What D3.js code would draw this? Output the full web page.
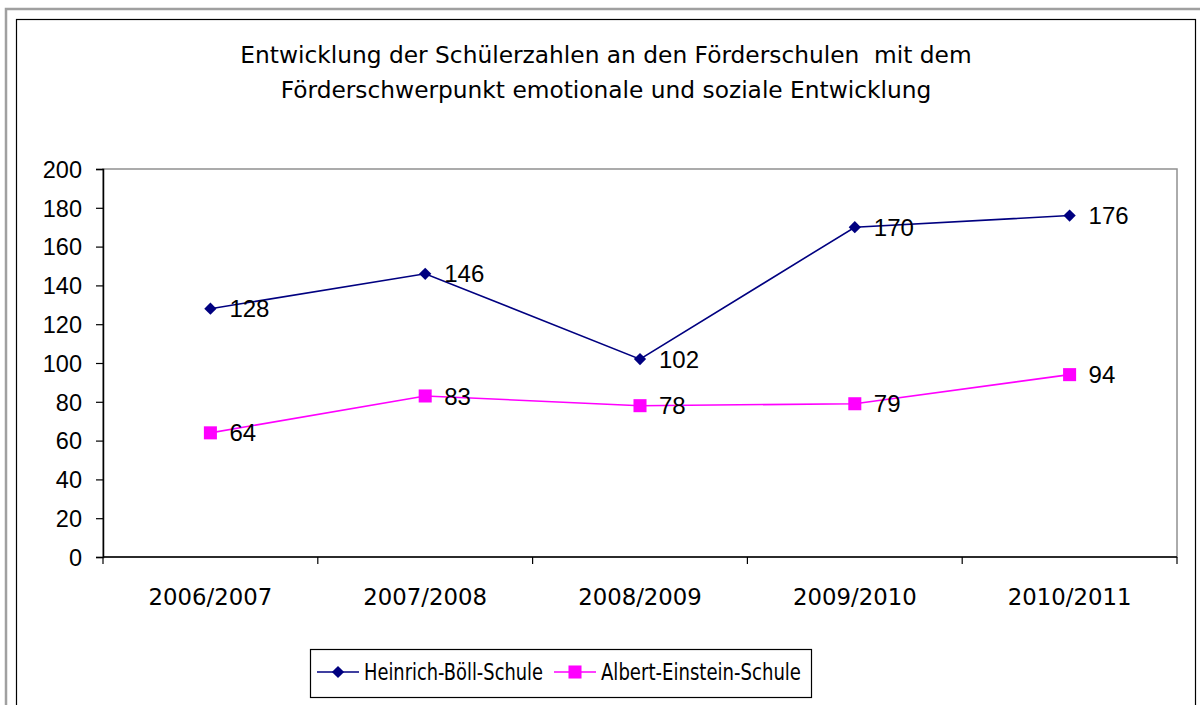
<!DOCTYPE html>
<html><head><meta charset="utf-8">
<script src="https://cdn.jsdelivr.net/npm/d3@7"></script>
<style>body{margin:0;background:#fff}svg{display:block}</style>
</head><body>
<svg id="c" width="1200" height="705"></svg>
<script>
const categories = ["2006/2007","2007/2008","2008/2009","2009/2010","2010/2011"];
const seriesNames = ["Heinrich-Böll-Schule","Albert-Einstein-Schule"];
const heinrich = [128,146,102,170,176];
const albert = [64,83,78,79,94];
const yTicks = [0,20,40,60,80,100,120,140,160,180,200];
const titleLines = ["Entwicklung der Schülerzahlen an den Förderschulen  mit dem","Förderschwerpunkt emotionale und soziale Entwicklung"];

const svg = d3.select("#c");
const titleFont = "'DejaVu Sans', sans-serif";
const condFont = "'DejaVu Sans Condensed', 'DejaVu Sans', sans-serif";
const numFont = "'Liberation Sans', Arial, sans-serif";

// outer frames
svg.append("rect").attr("x",6).attr("y",9).attr("width",1210).attr("height",720)
  .attr("fill","none").attr("stroke","#a0a0a0").attr("stroke-width",2.5);
svg.append("rect").attr("x",16.5).attr("y",19.5).attr("width",1179).attr("height",700)
  .attr("fill","none").attr("stroke","#000").attr("stroke-width",1.2);

const L=103, T=169, R=1177, B=557;
const x = d3.scaleBand().domain(categories).range([L,R]);
const y = d3.scaleLinear().domain([0,200]).range([B,T]);

// plot frame (gray top/right)
svg.append("rect").attr("x",L).attr("y",T).attr("width",R-L).attr("height",B-T)
  .attr("fill","none").attr("stroke","#909090").attr("stroke-width",1.5);

// title
const tt = svg.append("text").attr("text-anchor","middle").attr("font-family",titleFont)
  .attr("font-size",23.3).attr("fill","#000").attr("xml:space","preserve");
titleLines.forEach((t,i)=>tt.append("tspan").attr("x",606).attr("y",63+i*35).style("white-space","pre").text(t));

// y axis
const yAxis = d3.axisLeft(y).tickValues(yTicks).tickSize(7).tickPadding(14);
const gy = svg.append("g").attr("transform",`translate(${L},0)`).call(yAxis);
gy.select(".domain").attr("stroke","#000").attr("stroke-width",1.5);
gy.selectAll(".tick line").attr("stroke","#000").attr("stroke-width",1.2);
gy.selectAll(".tick text").attr("font-family",numFont).attr("font-size",23.5).attr("fill","#000").attr("dy","0.35em");

// x axis
const gx = svg.append("g").attr("transform",`translate(0,${B})`);
gx.append("line").attr("x1",L).attr("x2",R).attr("stroke","#000").attr("stroke-width",1.5);
const bounds = categories.map(c=>x(c)).concat([R]);
gx.selectAll("line.t").data(bounds).enter().append("line").attr("class","t")
  .attr("x1",d=>d).attr("x2",d=>d).attr("y1",0).attr("y2",7).attr("stroke","#000").attr("stroke-width",1.2);
gx.selectAll("text").data(categories).enter().append("text")
  .attr("x",d=>x(d)+x.bandwidth()/2).attr("y",48).attr("text-anchor","middle")
  .attr("font-family",titleFont).attr("font-size",22.8).attr("fill","#000").text(d=>d);

const cx = c=>x(c)+x.bandwidth()/2;
const series = [
  {name:seriesNames[0], vals:heinrich, color:"#000080", shape:"diamond"},
  {name:seriesNames[1], vals:albert, color:"#ff00ff", shape:"square"}
];
const line = d3.line().x((d,i)=>cx(categories[i])).y(d=>y(d));
const markerPath = s => s.shape==="diamond" ? d3.symbol().type(d3.symbolSquare).size(75)() : d3.symbol().type(d3.symbolSquare).size(170)();
series.forEach(s=>{
  svg.append("path").attr("d",line(s.vals)).attr("fill","none").attr("stroke",s.color).attr("stroke-width",1.6);
  svg.selectAll(null).data(s.vals).enter().append("path")
    .attr("d", markerPath(s))
    .attr("transform",(d,i)=>`translate(${cx(categories[i])},${y(d)})`+(s.shape==="diamond"?" rotate(45)":""))
    .attr("fill",s.color);
  svg.selectAll(null).data(s.vals).enter().append("text")
    .attr("x",(d,i)=>cx(categories[i])+19).attr("y",d=>y(d)).attr("dy","0.36em")
    .attr("font-family",numFont).attr("font-size",24).attr("fill","#000").text(d=>d);
});

// legend
const lg = svg.append("g");
lg.append("rect").attr("x",310.5).attr("y",649.5).attr("width",501).attr("height",48)
  .attr("fill","#fff").attr("stroke","#000").attr("stroke-width",1.2);
const items = [{s:series[0], x0:317, tx:364, w:179},{s:series[1], x0:554, tx:601, w:200}];
items.forEach(it=>{
  const ly=672;
  lg.append("line").attr("x1",it.x0).attr("x2",it.x0+42).attr("y1",ly).attr("y2",ly).attr("stroke",it.s.color).attr("stroke-width",1.6);
  lg.append("path").attr("d", markerPath(it.s))
    .attr("transform",`translate(${it.x0+21},${ly})`+(it.s.shape==="diamond"?" rotate(45)":"")).attr("fill",it.s.color);
  lg.append("text").attr("x",it.tx).attr("y",ly).attr("dy","0.36em").attr("font-family",condFont)
    .attr("font-size",22.5).attr("textLength",it.w).attr("lengthAdjust","spacingAndGlyphs")
    .attr("fill","#000").text(it.s.name);
});
</script>
</body></html>
